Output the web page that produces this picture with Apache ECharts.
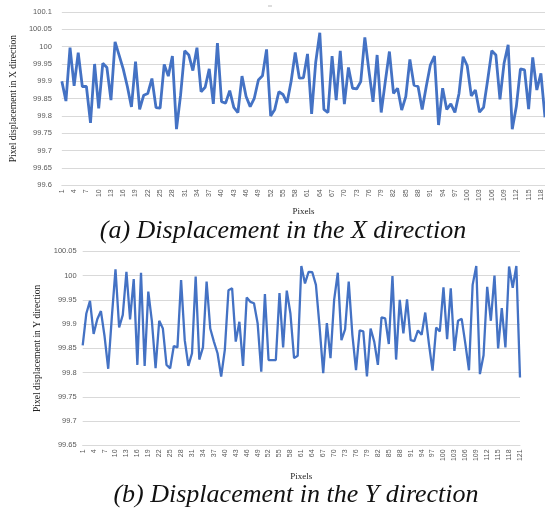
<!DOCTYPE html>
<html>
<head>
<meta charset="utf-8">
<script src="https://cdn.jsdelivr.net/npm/echarts@6/dist/echarts.min.js"></script>
<style>html,body{margin:0;padding:0;background:#fff}#c{width:545px;height:510px}</style>
</head>
<body>
<div id="c"></div>
<script>
// Top chart: displacement in X direction (pixels 1..119 visible)
const xDispValues = [
  99.90, 99.843, 99.997, 99.887, 99.983, 99.885, 99.885, 99.78, 99.95, 99.822,
  99.952, 99.94, 99.846, 100.014, 99.975, 99.935, 99.885, 99.826, 99.957, 99.819,
  99.86, 99.865, 99.908, 99.824, 99.823, 99.949, 99.915, 99.973, 99.762, 99.86,
  99.988, 99.976, 99.931, 99.997, 99.87, 99.883, 99.936, 99.835, 100.01, 99.841,
  99.837, 99.873, 99.825, 99.81, 99.915, 99.856, 99.827, 99.851, 99.904, 99.916,
  99.992, 99.80, 99.819, 99.87, 99.862, 99.838, 99.9, 99.983, 99.909, 99.91,
  99.979, 99.806, 99.955, 100.04, 99.819, 99.81, 99.973, 99.846, 99.988, 99.834,
  99.94, 99.88, 99.878, 99.899, 100.027, 99.93, 99.841, 99.976, 99.81, 99.9,
  99.986, 99.865, 99.88, 99.817, 99.856, 99.963, 99.889, 99.885, 99.819, 99.885,
  99.947, 99.973, 99.774, 99.88, 99.819, 99.835, 99.81, 99.865, 99.971, 99.945,
  99.858, 99.875, 99.811, 99.825, 99.904, 99.988, 99.976, 99.848, 99.952, 100.005,
  99.762, 99.827, 99.936, 99.933, 99.82, 99.969, 99.875, 99.923, 99.796
];
// Bottom chart: displacement in Y direction (pixels 1..121)
const yDispValues = [
  99.856, 99.922, 99.948, 99.88, 99.91, 99.927, 99.875, 99.808, 99.915, 100.013,
  99.893, 99.919, 100.008, 99.91, 99.993, 99.816, 100.006, 99.814, 99.967, 99.905,
  99.809, 99.907, 99.891, 99.816, 99.809, 99.855, 99.852, 99.991, 99.867, 99.814,
  99.84, 99.998, 99.827, 99.852, 99.988, 99.891, 99.864, 99.84, 99.792, 99.847,
  99.97, 99.974, 99.864, 99.905, 99.814, 99.955, 99.946, 99.943, 99.902, 99.802,
  99.962, 99.826, 99.826, 99.826, 99.964, 99.852, 99.969, 99.922, 99.83, 99.835,
  100.02, 99.984, 100.008, 100.007, 99.981, 99.895, 99.799, 99.902, 99.83, 99.95,
  100.006, 99.867, 99.889, 99.988, 99.878, 99.805, 99.887, 99.885, 99.792, 99.891,
  99.864, 99.816, 99.914, 99.912, 99.859, 99.999, 99.827, 99.95, 99.881, 99.951,
  99.867, 99.865, 99.887, 99.878, 99.924, 99.86, 99.804, 99.893, 99.885, 99.976,
  99.869, 99.974, 99.845, 99.907, 99.911, 99.86, 99.805, 99.981, 100.02, 99.797,
  99.836, 99.977, 99.907, 100.0, 99.85, 99.933, 99.852, 100.019, 99.975, 100.02,
  99.79
];
const xCategories = xDispValues.map((_, i) => String(i + 1));
const yCategories = yDispValues.map((_, i) => String(i + 1));

const xAxisTitle = 'Pixels';
const topYTitle = 'Pixel displacement in X direction';
const bottomYTitle = 'Pixel displacement in Y direction';
const topCaption = '(a) Displacement in the X direction';
const bottomCaption = '(b) Displacement in the Y direction';

const grey = '#595959';
const gridColor = '#d9d9d9';
const serif = '"Liberation Serif", "DejaVu Serif", serif';
const sans = '"Liberation Sans", "DejaVu Sans", sans-serif';
const fmt = v => String(+v.toFixed(2));

function xAx(idx, cats, gap) {
  return {
    type: 'category', gridIndex: idx, data: cats, boundaryGap: false,
    axisTick: {show: false},
    axisLine: {show: true, lineStyle: {color: gridColor, width: 1}},
    axisLabel: {rotate: 90, interval: 2, fontSize: 7, color: grey, fontFamily: sans, margin: 4},
    name: xAxisTitle, nameLocation: 'middle', nameGap: gap,
    nameTextStyle: {fontFamily: serif, fontSize: 9, color: '#222'}
  };
}
function yAx(idx, min, max, title, gap, margin) {
  return {
    type: 'value', gridIndex: idx, min: min, max: max, interval: 0.05,
    axisLine: {show: false}, axisTick: {show: false},
    splitLine: {lineStyle: {color: gridColor, width: 1}},
    axisLabel: {fontSize: 7.5, color: grey, fontFamily: sans, margin: margin, formatter: fmt},
    name: title, nameLocation: 'middle', nameGap: gap,
    nameTextStyle: {fontFamily: serif, fontSize: 9.5, color: '#222'}
  };
}

const chart = echarts.init(document.getElementById('c'), null, {renderer: 'canvas'});
chart.setOption({
  animation: false,
  grid: [
    {left: 57, right: 0, top: 12, height: 173.3},
    {left: 82.7, width: 437.3, top: 251.4, height: 194}
  ],
  xAxis: [xAx(0, xCategories, 22), xAx(1, yCategories, 27)],
  yAxis: [
    yAx(0, 99.6, 100.1, topYTitle, 33, 10),
    yAx(1, 99.65, 100.05, bottomYTitle, 29, 6)
  ],
  series: [
    {type: 'line', xAxisIndex: 0, yAxisIndex: 0, data: xDispValues, showSymbol: false,
     lineStyle: {color: '#4472C4', width: 2.8}, itemStyle: {color: '#4472C4'}},
    {type: 'line', xAxisIndex: 1, yAxisIndex: 1, data: yDispValues, showSymbol: false,
     lineStyle: {color: '#4472C4', width: 2.3}, itemStyle: {color: '#4472C4'}}
  ],
  graphic: [
    {type: 'line', shape: {x1: 268, y1: 6, x2: 272, y2: 6}, style: {stroke: '#bbb', lineWidth: 1}},
    {type: 'text', x: 283, y: 231, style: {text: topCaption, font: 'italic 26px ' + serif,
      fill: '#111', textAlign: 'center', textVerticalAlign: 'middle'}},
    {type: 'text', x: 296, y: 495, style: {text: bottomCaption, font: 'italic 26px ' + serif,
      fill: '#111', textAlign: 'center', textVerticalAlign: 'middle'}}
  ]
});
</script>
</body>
</html>
